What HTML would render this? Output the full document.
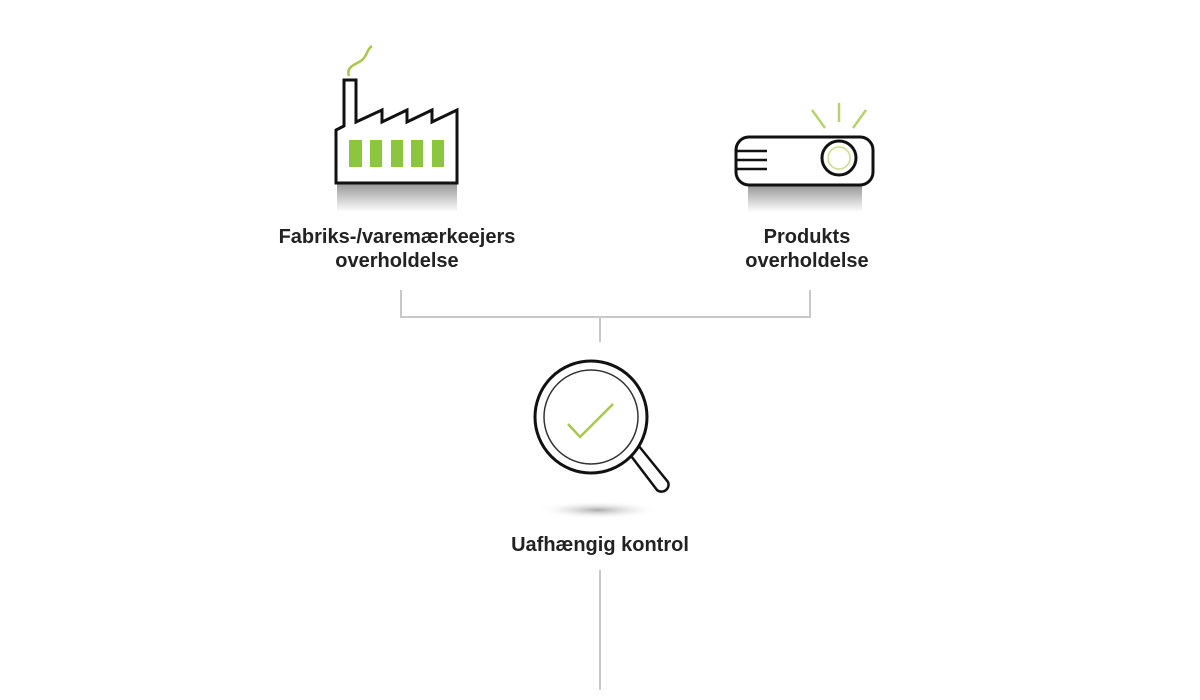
<!DOCTYPE html>
<html><head><meta charset="utf-8"><style>
html,body{margin:0;padding:0;background:#fff;width:1200px;height:700px;overflow:hidden}
.t{position:absolute;font-family:"Liberation Sans",sans-serif;font-weight:bold;font-size:20px;color:#222;text-align:center;line-height:24px}
</style></head><body>
<svg width="1200" height="700" style="position:absolute;left:0;top:0">
<defs>
<linearGradient id="sh" x1="0" y1="0" x2="0" y2="1">
<stop offset="0" stop-color="#999"/><stop offset="1" stop-color="#fff"/></linearGradient>
<radialGradient id="el"><stop offset="0" stop-color="#aaa"/><stop offset="1" stop-color="#fff" stop-opacity="0"/></radialGradient>
</defs>
<!-- factory -->
<rect x="337" y="184" width="120" height="28" fill="url(#sh)"/>
<path d="M349 76 C345 66,358 64,362 60 C368 55,366 50,372 46" fill="none" stroke="#a8c84a" stroke-width="2.5"/>
<path d="M336 183 V130 L344 126 V80 H356 V122 L382 110 V122 L407 110 V122 L432 110 V122 L457 110 V183 Z" fill="#fff" stroke="#111" stroke-width="3" stroke-linejoin="miter"/>
<g fill="#8cc63f"><rect x="349" y="140" width="13" height="27"/><rect x="370" y="140" width="12" height="27"/><rect x="391" y="140" width="12" height="27"/><rect x="411" y="140" width="12" height="27"/><rect x="432" y="140" width="12" height="27"/></g>
<!-- projector -->
<rect x="748" y="186" width="114" height="26" fill="url(#sh)"/>
<g stroke="#b7d46a" stroke-width="2.5"><line x1="839" y1="103" x2="839" y2="122"/><line x1="812" y1="110" x2="825" y2="128"/><line x1="866" y1="110" x2="853" y2="128"/></g>
<rect x="736" y="137" width="137" height="48" rx="13" fill="#fff" stroke="#111" stroke-width="3"/>
<g stroke="#111" stroke-width="2.5"><line x1="736" y1="151" x2="767" y2="151"/><line x1="736" y1="160" x2="767" y2="160"/><line x1="736" y1="169" x2="767" y2="169"/></g>
<circle cx="839" cy="158" r="17" fill="#fff" stroke="#111" stroke-width="3"/>
<circle cx="839" cy="158" r="11" fill="none" stroke="#c8dc8a" stroke-width="1.5"/>
<!-- connectors -->
<g stroke="#c8c8c8" stroke-width="2" fill="none">
<path d="M401 290 V317 H810 V290"/><line x1="600" y1="317" x2="600" y2="342"/><line x1="600" y1="570" x2="600" y2="690"/></g>
<!-- magnifier -->
<ellipse cx="598" cy="510" rx="62" ry="9" fill="url(#el)"/>
<path d="M628 452 L657 490 A7 7 0 0 0 668 482 L638 445" fill="#fff" stroke="#111" stroke-width="2.5"/>
<circle cx="591" cy="417" r="56" fill="#fff" stroke="#111" stroke-width="3"/>
<circle cx="591" cy="417" r="47" fill="none" stroke="#333" stroke-width="1.5"/>
<path d="M568 424 L580 437 L613 404" fill="none" stroke="#a8c84a" stroke-width="2.5"/>
</svg>
<div class="t" style="left:247px;top:225px;width:300px">Fabriks-/varemærkeejers<br>overholdelse</div>
<div class="t" style="left:707px;top:225px;width:200px">Produkts<br>overholdelse</div>
<div class="t" style="left:450px;top:533px;width:300px">Uafhængig kontrol</div>
</body></html>
